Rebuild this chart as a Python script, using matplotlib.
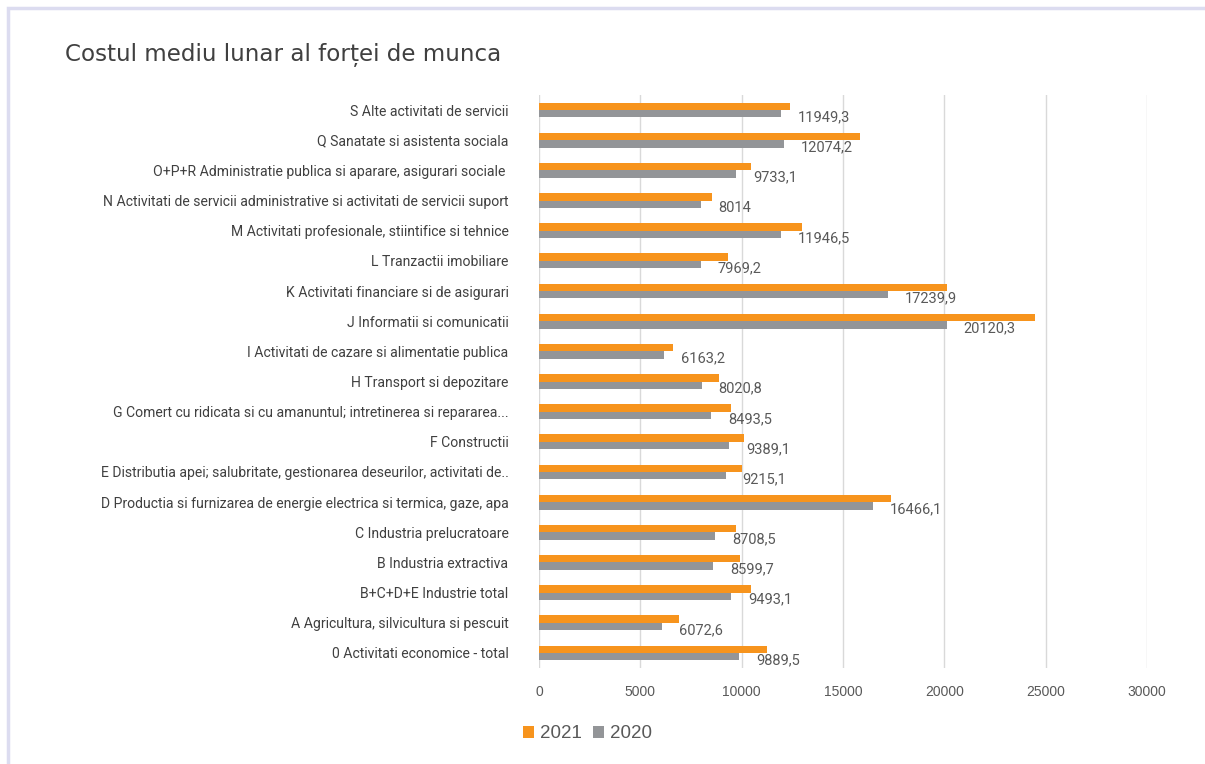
import numpy as np
import matplotlib.pyplot as plt
from matplotlib.patches import Rectangle

# categories, top to bottom as in the picture
categories = [
    "S Alte activitati de servicii",
    "Q Sanatate si asistenta sociala",
    "O+P+R Administratie publica si aparare, asigurari sociale ",
    "N Activitati de servicii administrative si activitati de servicii suport",
    "M Activitati profesionale, stiintifice si tehnice",
    "L Tranzactii imobiliare",
    "K Activitati financiare si de asigurari",
    "J Informatii si comunicatii",
    "I Activitati de cazare si alimentatie publica",
    "H Transport si depozitare",
    "G Comert cu ridicata si cu amanuntul; intretinerea si repararea...",
    "F Constructii",
    "E Distributia apei; salubritate, gestionarea deseurilor, activitati de..",
    "D Productia si furnizarea de energie electrica si termica, gaze, apa",
    "C Industria prelucratoare",
    "B Industria extractiva",
    "B+C+D+E Industrie total",
    "A Agricultura, silvicultura si pescuit",
    "0 Activitati economice - total",
]
# 2021 (no labels in the chart)
values_2021 = [12380, 15850, 10450, 8545, 12955, 9335, 20135, 24470, 6635, 8875,
               9465, 10125, 9995, 17370, 9730, 9930, 10455, 6900, 11245]
values_2020 = [11949.3, 12074.2, 9733.1, 8014, 11946.5, 7969.2, 17239.9, 20120.3, 6163.2, 8020.8,
               8493.5, 9389.1, 9215.1, 16466.1, 8708.5, 8599.7, 9493.1, 6072.6, 9889.5]
x_ticks = [0, 5000, 10000, 15000, 20000, 25000, 30000]

orange = "#F7941D"
grey = "#939598"
narrow = ["Roboto", "DejaVu Sans"]


def fmt(v):
    if float(v).is_integer():
        return str(int(v))
    return f"{v:.1f}".replace(".", ",")


fig = plt.figure(figsize=(12.05, 7.64), dpi=100)
ax = fig.add_axes([539 / 1205, 96 / 764, 608 / 1205, 573 / 764])

n = len(categories)
y = np.arange(n)[::-1]  # top category gets highest y
h = 0.245

ax.barh(y + h / 2, values_2021, height=h, color=orange, label="2021", zorder=3)
ax.barh(y - h / 2, values_2020, height=h, color=grey, label="2020", zorder=3)

for yy, v in zip(y, values_2020):
    ax.annotate(fmt(v), xy=(v, yy - h / 2), xytext=(12, -2.5), textcoords="offset points",
                ha="left", va="center", fontsize=10.5, color="#595959", family=narrow)

ax.set_xlim(0, 30000)
ax.set_ylim(-0.5, n - 0.5)
ax.set_xticks(x_ticks)
ax.set_xticklabels([str(t) for t in x_ticks], fontsize=10, color="#595959",
                   family=["Liberation Sans", "DejaVu Sans"])
ax.set_yticks(y)
ax.set_yticklabels(categories, fontsize=10.1, color="#404040", family=narrow)
ax.tick_params(axis="both", length=0)
ax.tick_params(axis="y", pad=22)
ax.tick_params(axis="x", pad=12)
ax.grid(axis="x", color="#D9D9D9", lw=1, zorder=0)
for s in ax.spines.values():
    s.set_visible(False)

leg = fig.legend(handles=ax.get_legend_handles_labels()[0], labels=["2021", "2020"],
                 loc="center left", bbox_to_anchor=(506 / 1205, 1 - 734 / 764), ncol=2,
                 frameon=False, handlelength=0.6, handleheight=0.6, handletextpad=0.3,
                 columnspacing=0.6, prop={"family": ["Liberation Sans", "DejaVu Sans"], "size": 13.5})
for t in leg.get_texts():
    t.set_color("#595959")

fig.text(65 / 1205, 1 - 55 / 764, "Costul mediu lunar al forței de munca", ha="left", va="center",
         fontsize=16.6, color="#404040", family=["DejaVu Sans"])

fig.patches.append(Rectangle((8 / 1205, -0.05), 1.1, 1 - 8 / 764 + 0.05, transform=fig.transFigure,
                             fill=False, edgecolor="#DCDCF0", lw=2.5))

fig.savefig("out.png", dpi=100)
